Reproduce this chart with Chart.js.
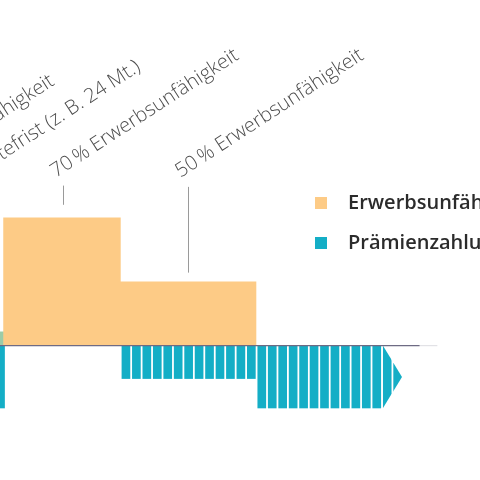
<!DOCTYPE html>
<html>
<head>
<meta charset="utf-8">
<script src="https://cdn.jsdelivr.net/npm/chart.js@4.4.1/dist/chart.umd.min.js"></script>
<style>
html,body{margin:0;padding:0;background:#ffffff;overflow:hidden;}
#wrap{position:absolute;left:0;top:0;width:480px;height:480px;}
</style>
</head>
<body>
<div id="wrap"><canvas id="c" width="480" height="480"></canvas></div>
<script>
// ---- data ----
const premiumMonths = [0, 1, 2, 3, 4, 5, 6, 7, 8, 9, 10, 11, 12, 13, 14, 15, 16, 17, 18, 19, 20, 21, 22, 23, 24, 25, 26, 27, 28, 29, 30, 31, 32, 33, 34, 35, 36];
const premiumValues = [-49, 0, 0, 0, 0, 0, 0, 0, 0, 0, 0, 0, -26, -26, -26, -26, -26, -26, -26, -26, -26, -26, -26, -26, -26, -49, -49, -49, -49, -49, -49, -49, -49, -49, -49, -49, -49];
const bridgeMonths = [0];
const bridgeValues = [11];
const benefitMonths = [0.25, 11.5, 24.5];
const benefitValues = [100, 50, 50];
const arrowMonths = [37, 38];
const arrowValues = [-49, -49];
const axisMonths = [-1, 40.1];
const axisValues = [0, 0];
const axisFadeMonths = [40.1, 41.8];
const labelTexts = ["Erwerbsunfähigkeit", "Wartefrist (z. B. 24 Mt.)", "70\u2009% Erwerbsunfähigkeit", "50\u2009% Erwerbsunfähigkeit"];
const labelMonths = [-7.9, -2.1, 5.95, 17.9];
const labelLevels = [131, 129.2, 131, 131];
const leaderTops = [null, null, 125, 124];
const leaderEnds = [null, null, 110, 57];
const legendLabels = ["Erwerbsunfähigkeit", "Prämienzahlung"];

const ORANGE = '#fdcb86';
const TEAL = '#14aec6';
const GREEN = '#9ccca8';
const legendColors = [ORANGE, TEAL];

function pts(xs, ys) { return xs.map((x, i) => ({ x: x, y: ys[i] })); }

const overlay = {
  id: 'overlay',
  beforeDatasetsDraw(chart) {
    const ctx = chart.ctx;
    const xs = chart.scales.x, ys = chart.scales.y;
    const barMeta = chart.getDatasetMeta(1);
    const w = barMeta.data[0].width;
    const yTop = ys.getPixelForValue(0);
    const yBot = ys.getPixelForValue(arrowValues[0]);
    const x0 = xs.getPixelForValue(arrowMonths[0]) - w / 2;
    const x1 = xs.getPixelForValue(arrowMonths[arrowMonths.length - 1]) + w / 2;
    arrowMonths.forEach((m) => {
      const cx = xs.getPixelForValue(m);
      ctx.save();
      ctx.beginPath();
      ctx.rect(cx - w / 2, yTop, w, yBot - yTop);
      ctx.clip();
      ctx.beginPath();
      ctx.moveTo(x0, yTop);
      ctx.lineTo(x1, (yTop + yBot) / 2);
      ctx.lineTo(x0, yBot);
      ctx.closePath();
      ctx.fillStyle = TEAL;
      ctx.fill();
      ctx.restore();
    });
  },
  afterDatasetsDraw(chart) {
    const ctx = chart.ctx;
    const xs = chart.scales.x, ys = chart.scales.y;
    // leader lines
    ctx.save();
    ctx.strokeStyle = '#9a9a9a';
    ctx.lineWidth = 1;
    labelMonths.forEach((m, i) => {
      if (leaderTops[i] === null) return;
      const x = Math.round(xs.getPixelForValue(m)) + 0.5;
      ctx.beginPath();
      ctx.moveTo(x, ys.getPixelForValue(leaderTops[i]));
      ctx.lineTo(x, ys.getPixelForValue(leaderEnds[i]));
      ctx.stroke();
    });
    ctx.restore();
    // rotated labels
    labelTexts.forEach((t, i) => {
      const x = xs.getPixelForValue(labelMonths[i]) - 7;
      const y = ys.getPixelForValue(labelLevels[i]);
      ctx.save();
      ctx.translate(x, y);
      ctx.rotate(-33 * Math.PI / 180);
      ctx.font = '300 20px "Open Sans"';
      ctx.fillStyle = '#4d4d4d';
      ctx.textAlign = 'left';
      ctx.textBaseline = 'alphabetic';
      ctx.fillText(t, 0, 0);
      ctx.restore();
    });
    // legend
    ctx.save();
    legendLabels.forEach((t, i) => {
      const top = 197 + i * 40;
      ctx.fillStyle = legendColors[i];
      ctx.fillRect(315, top, 12, 12);
      ctx.font = '600 20px "Open Sans"';
      ctx.fillStyle = '#2b2b2b';
      ctx.textAlign = 'left';
      ctx.textBaseline = 'alphabetic';
      ctx.fillText(t, 348, top + 11.5);
    });
    ctx.restore();
  }
};

new Chart(document.getElementById('c'), {
  type: 'bar',
  data: {
    datasets: [
      { type: 'bar', data: pts(bridgeMonths, bridgeValues), backgroundColor: GREEN, borderWidth: 0,
        barPercentage: 0.83, categoryPercentage: 1, grouped: false, order: 3 },
      { type: 'bar', data: pts(premiumMonths, premiumValues), backgroundColor: TEAL, borderWidth: 0,
        barPercentage: 0.83, categoryPercentage: 1, grouped: false, order: 2 },
      { type: 'line', data: pts(benefitMonths, benefitValues), stepped: 'before', fill: 'origin',
        backgroundColor: ORANGE, borderWidth: 0, borderColor: 'rgba(0,0,0,0)', pointRadius: 0, order: 1 },
      { type: 'line', data: pts(axisFadeMonths, axisValues), borderColor: '#e2e2e6', borderWidth: 1.2,
        pointRadius: 0, fill: false, order: 0 },
      { type: 'line', data: pts(axisMonths, axisValues), borderColor: '#6e6b84', borderWidth: 1.3,
        pointRadius: 0, fill: false, order: -1 }
    ]
  },
  options: {
    responsive: false,
    animation: false,
    devicePixelRatio: 1,
    layout: { padding: 0 },
    events: [],
    scales: {
      x: { type: 'linear', offset: false, min: -0.05, max: 45.88, display: false, ticks: { includeBounds: false }, grid: { offset: false } },
      y: { type: 'linear', min: -105, max: 270, display: false }
    },
    plugins: { legend: { display: false }, tooltip: { enabled: false } }
  },
  plugins: [overlay]
});
</script>
</body>
</html>
